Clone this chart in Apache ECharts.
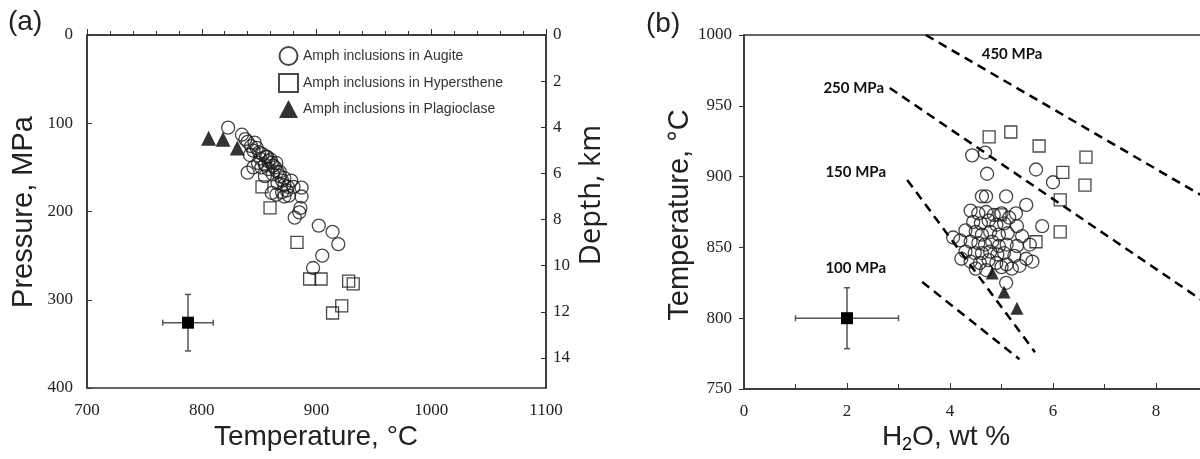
<!DOCTYPE html>
<html><head><meta charset="utf-8">
<script src="https://cdn.jsdelivr.net/npm/echarts@6/dist/echarts.min.js"></script>
<style>html,body{margin:0;padding:0;background:#fff}#c{width:1200px;height:459px}</style>
</head><body><div id="c"></div>
<script>
// ---------- Panel (a): Temperature (°C) vs Pressure (MPa) ----------
const augiteA = [[823,105],[835,113],[840,121],[846,122],[838,118],[843,126],[848,128],[845,131],[850,133],[853,135],[842,136],[851,140],[856,138],[857,138],[858,143],[855,147],[860,141],[861,145],[862,148],[858,152],[864,150],[866,155],[862,158],[868,155],[868,160],[872,162],[870,165],[866,168],[872,170],[875,172],[874,176],[870,178],[876,182],[878,165],[880,172],[861,179],[865,181],[872,183],[887,173],[887,183],[840,156],[845,150],[849,145],[852,150],[855,160],[865,145],[886,196],[885,201],[881,207],[902,216],[914,223],[919,237],[905,250],[897,264]];
const hyperA = [[852.5,172],[859.5,196],[883,235],[894,276.5],[904,276.5],[928,279],[932,282],[922,307],[914,315]];
const plagA = [[806,117],[818.5,118],[831,128]];
const errA = [[788,326,22,32]];
// ---------- Panel (b): H2O (wt %) vs Temperature (°C) ----------
const augiteB = [[4.43,915],[4.68,917],[4.72,902],[5.67,905],[6.0,896],[4.62,886],[4.7,886],[5.09,886],[5.48,880],[5.28,874],[5.79,865],[4.06,857],
 [4.4,876],[4.55,874],[4.7,875],[4.85,873],[5.0,874],[5.15,871],
 [4.45,868],[4.6,867],[4.75,869],[4.9,866],[5.05,867],[5.3,865],
 [4.3,862],[4.5,861],[4.62,859],[4.78,861],[4.95,859],[5.12,860],[5.4,858],
 [4.2,855],[4.4,854],[4.55,853],[4.68,852],[4.82,854],[4.95,851],[5.1,852],[5.3,851],[5.55,852],
 [4.3,847],[4.48,846],[4.62,846],[4.78,847],[4.92,845],[5.05,846],[5.25,844],[5.48,842],
 [4.22,842],[4.4,840],[4.58,839],[4.75,841],[4.9,839],[5.1,838],[5.35,837],[5.6,840],
 [4.5,835],[4.7,834],[5.0,836],[5.2,835],[5.09,825]];
const hyperB = [[4.76,928],[5.18,931.5],[5.73,921.6],[6.64,913.8],[6.19,903],[6.62,894],[6.14,883.5],[6.14,861],[5.67,854],[4.97,873]];
const plagB = [[4.82,832],[5.05,818.5],[5.3,807]];
const errB = [[2,800,1,21.5]];
const isobar450 = [[3.53,1000],[9.2,880]];
const isobar250 = [[2.83,962.6],[9.0,810]];
const isobar150 = [[3.17,897.6],[5.65,776]];
const isobar100 = [[3.46,825.6],[5.35,771]];
const isobarNames = ['450 MPa','250 MPa','150 MPa','100 MPa'];

const serif = 'Liberation Serif';
const sans = 'Liberation Sans';
const ink = '#1a1a1a';
const axisCol = '#333';

function errRender(params, api){
  const x=api.value(0), y=api.value(1), dx=api.value(2), dy=api.value(3);
  const c=api.coord([x,y]), l=api.coord([x-dx,y]), r=api.coord([x+dx,y]), t=api.coord([x,y+dy]), b=api.coord([x,y-dy]);
  const st={stroke:'#555', lineWidth:1.5}, cap=3, s=12;
  return {type:'group', children:[
    {type:'line', shape:{x1:l[0],y1:l[1],x2:r[0],y2:r[1]}, style:st},
    {type:'line', shape:{x1:t[0],y1:t[1],x2:b[0],y2:b[1]}, style:st},
    {type:'line', shape:{x1:l[0],y1:l[1]-cap,x2:l[0],y2:l[1]+cap}, style:st},
    {type:'line', shape:{x1:r[0],y1:r[1]-cap,x2:r[0],y2:r[1]+cap}, style:st},
    {type:'line', shape:{x1:t[0]-cap,y1:t[1],x2:t[0]+cap,y2:t[1]}, style:st},
    {type:'line', shape:{x1:b[0]-cap,y1:b[1],x2:b[0]+cap,y2:b[1]}, style:st},
    {type:'rect', shape:{x:c[0]-s/2,y:c[1]-s/2,width:s,height:s}, style:{fill:'#000'}}
  ]};
}

const plain = v => String(v);
const tickLabel = {fontFamily: serif, fontSize: 17, color: '#222', formatter: plain};
const line = {show:true, lineStyle:{color:axisCol, width:1.5}};

const chart = echarts.init(document.getElementById('c'), null, {renderer:'canvas'});
chart.setOption({
  backgroundColor:'#fff',
  animation:false,
  grid:[
    {left:87, top:35, width:459, height:353, show:true, borderColor:axisCol, borderWidth:1.5, containLabel:false, outerBoundsMode:'none'},
    {left:744, top:35, width:515, height:354, show:true, borderColor:axisCol, borderWidth:1.5, containLabel:false, outerBoundsMode:'none'}
  ],
  legend:{
    left:273, top:41, orient:'vertical', itemWidth:19, itemHeight:18, itemGap:7,
    textStyle:{fontFamily:sans, fontSize:14, color:'#333'},
    data:['Amph inclusions in Augite','Amph inclusions in Hypersthene','Amph inclusions in Plagioclase']
  },
  xAxis:[
    {gridIndex:0, type:'value', min:700, max:1100, interval:100, axisLine:line,
     axisTick:{inside:true, length:6, lineStyle:{color:axisCol}}, minorTick:{show:true, splitNumber:5, length:4, lineStyle:{color:axisCol}},
     splitLine:{show:false}, axisLabel:Object.assign({margin:14}, tickLabel)},
    {gridIndex:1, type:'value', min:0, max:10, interval:2, axisLine:line,
     axisTick:{inside:true, length:6, lineStyle:{color:axisCol}}, minorTick:{show:true, splitNumber:2, length:5, lineStyle:{color:axisCol}},
     splitLine:{show:false}, axisLabel:Object.assign({margin:14}, tickLabel)}
  ],
  yAxis:[
    {gridIndex:0, type:'value', min:0, max:400, interval:100, inverse:true, axisLine:line,
     axisTick:{inside:true, length:5, lineStyle:{color:axisCol}}, splitLine:{show:false},
     axisLabel:Object.assign({margin:14}, tickLabel)},
    {gridIndex:0, type:'value', position:'right', min:0, max:15.3, interval:2, inverse:true, axisLine:line,
     axisTick:{inside:true, length:5, lineStyle:{color:axisCol}}, splitLine:{show:false},
     axisLabel:Object.assign({margin:7, showMaxLabel:false}, tickLabel)},
    {gridIndex:1, type:'value', min:750, max:1000, interval:50, axisLine:line,
     axisTick:{inside:false, length:5, lineStyle:{color:axisCol}}, splitLine:{show:false},
     axisLabel:Object.assign({margin:12}, tickLabel)}
  ],
  graphic:[
    {type:'text', left:8, top:8, style:{text:'(a)', font:'28px "Liberation Sans"', fill:'#222'}},
    {type:'text', left:646, top:10, style:{text:'(b)', font:'28px "Liberation Sans"', fill:'#222'}},
    {type:'text', x:316, y:437, style:{text:'Temperature, °C', font:'28px "Liberation Sans"', fill:'#222', align:'center', verticalAlign:'middle'}},
    {type:'text', x:24, y:212, rotation:Math.PI/2, style:{text:'Pressure, MPa', font:'29px "Liberation Sans"', fill:'#222', align:'center', verticalAlign:'middle'}},
    {type:'text', x:592, y:195, rotation:Math.PI/2, style:{text:'Depth, km', font:'29px "Open Sans"', fill:'#222', align:'center', verticalAlign:'middle'}},
    {type:'text', x:680, y:215, rotation:Math.PI/2, style:{text:'Temperature, °C', font:'29px "Liberation Sans"', fill:'#222', align:'center', verticalAlign:'middle'}},
    {type:'text', x:946, y:437, style:{text:'{a|H}{s|2}{a|O, wt %}', align:'center', verticalAlign:'middle',
      rich:{a:{font:'28px "Liberation Sans"', fill:'#222', color:'#222', height:30}, s:{font:'18px "Liberation Sans"', color:'#222', height:30, padding:[16,0,0,0]}}}},
    {type:'text', x:1012, y:54, style:{text:isobarNames[0], font:'bold 15px Lato', fill:'#111', align:'center', verticalAlign:'middle'}},
    {type:'text', x:884, y:88, style:{text:isobarNames[1], font:'bold 15px Lato', fill:'#111', align:'right', verticalAlign:'middle'}},
    {type:'text', x:886, y:172, style:{text:isobarNames[2], font:'bold 15px Lato', fill:'#111', align:'right', verticalAlign:'middle'}},
    {type:'text', x:886, y:268, style:{text:isobarNames[3], font:'bold 15px Lato', fill:'#111', align:'right', verticalAlign:'middle'}}
  ],
  series:[
    {name:'Amph inclusions in Augite', type:'scatter', xAxisIndex:0, yAxisIndex:0, data:augiteA, symbol:'circle', symbolSize:13,
     itemStyle:{color:'rgba(255,255,255,0)', borderColor:ink, borderWidth:1.3}},
    {name:'Amph inclusions in Hypersthene', type:'scatter', xAxisIndex:0, yAxisIndex:0, data:hyperA, symbol:'rect', symbolSize:12,
     itemStyle:{color:'rgba(255,255,255,0)', borderColor:ink, borderWidth:1.3}},
    {name:'Amph inclusions in Plagioclase', type:'scatter', xAxisIndex:0, yAxisIndex:0, data:plagA, symbol:'triangle', symbolSize:15,
     itemStyle:{color:'#000'}},
    {type:'custom', xAxisIndex:0, yAxisIndex:0, data:errA, renderItem:errRender, encode:{x:0,y:1}},
    {type:'line', xAxisIndex:1, yAxisIndex:2, data:isobar450, symbol:'none', lineStyle:{color:'#000', width:2.5, type:[9,6]}},
    {type:'line', xAxisIndex:1, yAxisIndex:2, data:isobar250, symbol:'none', lineStyle:{color:'#000', width:2.5, type:[9,6]}},
    {type:'line', xAxisIndex:1, yAxisIndex:2, data:isobar150, symbol:'none', lineStyle:{color:'#000', width:2.5, type:[9,6]}},
    {type:'line', xAxisIndex:1, yAxisIndex:2, data:isobar100, symbol:'none', lineStyle:{color:'#000', width:2.5, type:[9,6]}},
    {name:'Amph inclusions in Augite', type:'scatter', xAxisIndex:1, yAxisIndex:2, data:augiteB, symbol:'circle', symbolSize:13,
     itemStyle:{color:'rgba(255,255,255,0)', borderColor:ink, borderWidth:1.3}},
    {name:'Amph inclusions in Hypersthene', type:'scatter', xAxisIndex:1, yAxisIndex:2, data:hyperB, symbol:'rect', symbolSize:12,
     itemStyle:{color:'rgba(255,255,255,0)', borderColor:ink, borderWidth:1.3}},
    {name:'Amph inclusions in Plagioclase', type:'scatter', xAxisIndex:1, yAxisIndex:2, data:plagB, symbol:'triangle', symbolSize:13,
     itemStyle:{color:'#000'}},
    {type:'custom', xAxisIndex:1, yAxisIndex:2, data:errB, renderItem:errRender, encode:{x:0,y:1}}
  ]
});
</script></body></html>
